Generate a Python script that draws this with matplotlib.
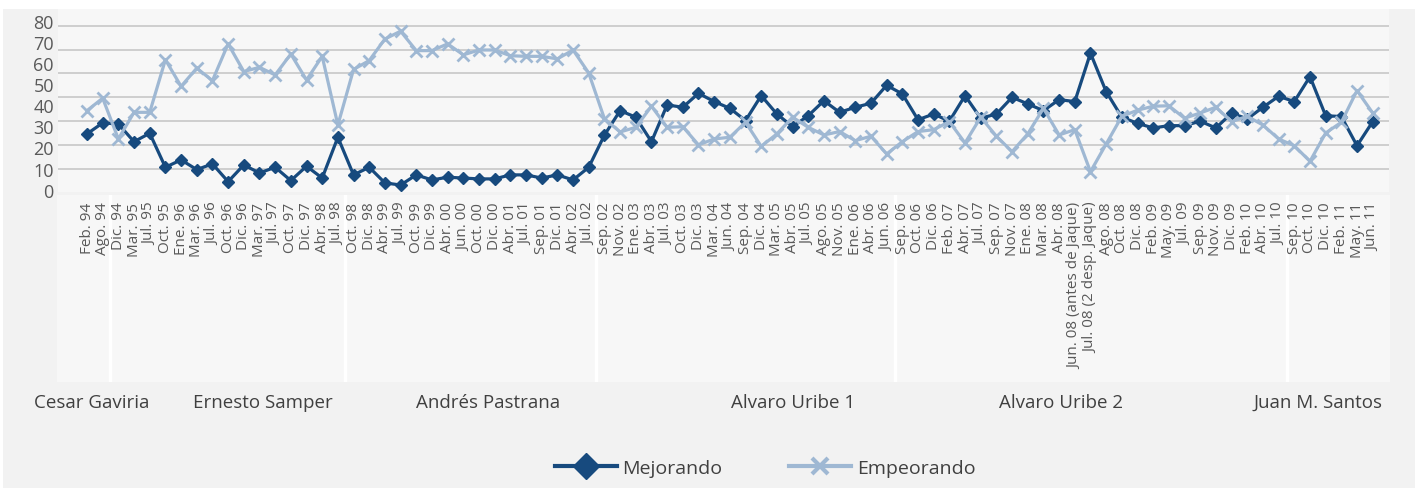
import numpy as np
import matplotlib
matplotlib.use("Agg")
import matplotlib.pyplot as plt
import matplotlib.transforms as mtransforms
from matplotlib.lines import Line2D
from matplotlib.patches import Rectangle

plt.rcParams['font.family'] = ['Open Sans', 'DejaVu Sans']

# periodos de la encuesta, agrupados por gobierno
periodos = [
    "Feb. 94", "Ago. 94",
    "Dic. 94", "Mar. 95", "Jul. 95", "Oct. 95", "Ene. 96", "Mar. 96", "Jul. 96", "Oct. 96",
    "Dic. 96", "Mar. 97", "Jul. 97", "Oct. 97", "Dic. 97", "Abr. 98", "Jul. 98",
    "Oct. 98", "Dic. 98", "Abr. 99", "Jul. 99", "Oct. 99", "Dic. 99", "Abr. 00", "Jun. 00",
    "Oct. 00", "Dic. 00", "Abr. 01", "Jul. 01", "Sep. 01", "Dic. 01", "Abr. 02", "Jul. 02",
    "Sep. 02", "Nov. 02", "Ene. 03", "Abr. 03", "Jul. 03", "Oct. 03", "Dic. 03", "Mar. 04",
    "Jun. 04", "Sep. 04", "Dic. 04", "Mar. 05", "Abr. 05", "Jul. 05", "Ago. 05", "Nov. 05",
    "Ene. 06", "Abr. 06", "Jun. 06",
    "Sep. 06", "Oct. 06", "Dic. 06", "Feb. 07", "Abr. 07", "Jul. 07", "Sep. 07", "Nov. 07",
    "Ene. 08", "Mar. 08", "Abr. 08", "Jun. 08 (antes de Jaque)", "Jul. 08 (2 desp. Jaque)",
    "Ago. 08", "Oct. 08", "Dic. 08", "Feb. 09", "May. 09", "Jul. 09", "Sep. 09", "Nov. 09",
    "Dic. 09", "Feb. 10", "Abr. 10", "Jul. 10",
    "Sep. 10", "Oct. 10", "Dic. 10", "Feb. 11", "May. 11", "Jun. 11",
]

mejorando = [
    26.4, 31.6,
    31.1, 22.7, 26.7, 10.6, 14.1, 9.5, 12.2, 3.8, 11.7, 7.9, 10.6, 4.3, 11.1, 5.5, 24.8,
    7.0, 10.6, 3.2, 2.2, 7.0, 4.6, 5.9, 5.5, 5.1, 5.1, 7.0, 7.0, 5.5, 7.0, 4.6, 10.6,
    25.8, 37.4, 34.3, 22.7, 40.1, 39.0, 45.6, 41.7, 38.5, 32.7, 44.5, 35.8, 29.8, 35.0,
    42.1, 36.6, 39.0, 40.9, 49.4,
    45.3, 33.1, 35.8, 32.4, 44.5, 33.8, 35.8, 43.7, 40.6, 37.4, 42.6, 41.7, 64.6, 46.4,
    34.3, 31.4, 29.2, 30.3, 30.3, 32.4, 29.2, 36.2, 33.5, 39.0, 44.2,
    41.7, 53.5, 35.0, 34.6, 20.8, 32.2,
]

empeorando = [
    37.4, 43.3,
    24.0, 36.6, 36.6, 61.5, 48.9, 57.5, 51.6, 69.0, 55.9, 57.9, 54.3, 64.2, 51.9, 63.1, 30.6,
    56.9, 61.1, 71.3, 75.0, 65.8, 65.8, 69.0, 63.8, 66.1, 66.1, 63.4, 63.1, 63.1, 61.9, 66.1, 55.2,
    33.6, 27.3, 29.5, 39.5, 29.5, 29.8, 21.2, 24.0, 24.8, 31.9, 20.5, 26.4, 34.3, 29.5,
    25.9, 27.5, 23.2, 25.3, 16.9,
    22.7, 27.5, 28.4, 32.2, 22.1, 34.3, 25.3, 18.0, 26.4, 38.5, 25.9, 28.4, 8.5, 21.6,
    34.7, 37.6, 39.5, 39.7, 33.8, 36.3, 39.0, 32.2, 34.7, 30.6, 24.0,
    20.8, 13.4, 26.8, 31.9, 46.9, 36.3,
]

presidentes = ["Cesar Gaviria", "Ernesto Samper", "Andrés Pastrana",
               "Alvaro Uribe 1", "Alvaro Uribe 2", "Juan M. Santos"]
meses_por_gobierno = [2, 15, 16, 19, 25, 6]
y_ticks = [0, 10, 20, 30, 40, 50, 60, 70, 80]

# posicion de los nombres (en unidades de categoria)
pos_presidentes = [0.3, 11.2, 25.6, 45.0, 62.1, 78.5]

c_mej = '#174a7e'
c_emp = '#9fb8d3'
gris_txt = '#595959'

W, H = 1415, 489
fig = plt.figure(figsize=(W / 100, H / 100), dpi=100)
fig.patch.set_facecolor('white')
fig.add_artist(Rectangle((3 / W, 0), 1, (H - 10) / H, transform=fig.transFigure,
                         facecolor='#f2f2f2', edgecolor='none', zorder=-10))

left, right = 58 / W, 1389 / W
ax = fig.add_axes([left, (H - 193) / H, right - left, 183 / H])
ax.set_facecolor('#f7f7f7')
for s in ax.spines.values():
    s.set_visible(False)

x = np.arange(len(periodos))
xlim = (-1.85, 83.04)
ax.set_xlim(*xlim)
ax.set_ylim(-1.1, 85.5)

# lineas de cuadricula
for g in np.linspace(9.8, 77.6, 7):
    ax.axhline(g, color='#c8c8c8', lw=1.2, zorder=1)

ax.plot(x, mejorando, color=c_mej, lw=2.3, marker='D', markersize=6.5, zorder=3)
ax.plot(x, empeorando, color=c_emp, lw=2.3, marker='x', markersize=9, mew=2, zorder=3)

ax.set_yticks(y_ticks)
ax.set_yticklabels([str(v) for v in y_ticks], fontsize=13, color=gris_txt)
ax.set_xticks(x)
ax.set_xticklabels(periodos, rotation=90, fontsize=11, color=gris_txt, va='top', ha='center')
ax.tick_params(axis='both', length=0)
ax.tick_params(axis='x', pad=7)
ax.tick_params(axis='y', pad=3)

# banda de categorias con separadores por gobierno
band = fig.add_axes([57 / W, (H - 383) / H, (1390 - 57) / W, 187 / H], zorder=-1)
band.set_facecolor('#f7f7f7')
band.set_xlim(*xlim)
band.set_ylim(0, 1)
band.set_xticks([])
band.set_yticks([])
for s in band.spines.values():
    s.set_visible(False)
limites = np.cumsum(meses_por_gobierno)[:-1] - 0.5
for b in limites:
    band.axvline(b, color='white', lw=2.5)

trans = mtransforms.blended_transform_factory(ax.transData, fig.transFigure)
for nombre, p in zip(presidentes, pos_presidentes):
    ax.text(p, (H - 403) / H, nombre, transform=trans, ha='center', va='center',
            fontsize=13.5, color='#404040')

handles = [
    Line2D([], [], color=c_mej, lw=3, marker='D', markersize=13),
    Line2D([], [], color=c_emp, lw=3, marker='x', markersize=12, mew=3),
]
fig.legend(handles, ["Mejorando", "Empeorando"], loc='center',
           bbox_to_anchor=(765 / W, (H - 469) / H), ncol=2, frameon=False,
           fontsize=14, handlelength=3.2, handletextpad=0.3, columnspacing=3.4,
           labelcolor='#404040')

fig.savefig('out.png', dpi=100)
